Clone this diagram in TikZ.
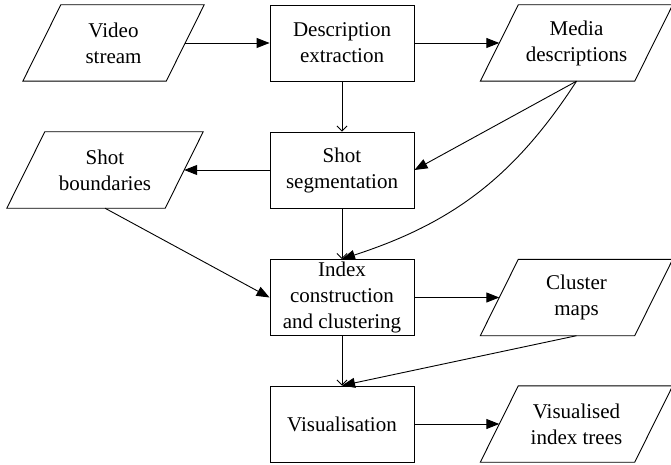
\documentclass[tikz,border=0pt]{standalone}
\usepackage{fontspec}
\setmainfont{Liberation Serif}
\usetikzlibrary{arrows.meta}
\begin{document}
\begin{tikzpicture}[x=1pt,y=1pt,
  every node/.style={font=\fontsize{21}{26}\selectfont, align=center, inner sep=0pt},
  proc/.style={draw, line width=0.9pt, minimum width=144pt, minimum height=76pt},
  data/.style={minimum height=76pt},
  flow/.style={line width=0.9pt, -{Triangle[length=13pt,width=10pt]}},
  down/.style={line width=0.9pt, -{Straight Barb[length=5pt,width=10pt]}},
]
\useasboundingbox (0,0) rectangle (671,464);
% process boxes
\node[proc] (de)  at (342,421)   {Description\\extraction};
\node[proc] (ss)  at (342,294)   {Shot\\segmentation};
\node[proc] (idx) at (342,166.5) {Index\\construction\\and clustering};
\node[proc] (vis) at (342,40)    {Visualisation};
% data nodes (parallelograms drawn below)
\node[data, minimum width=143pt] (vs)  at (113.5,421) {Video\\stream};
\node[data, minimum width=158pt] (sb)  at (105,294)   {Shot\\boundaries};
\node[data, minimum width=154pt] (md)  at (576.5,421) {Media\\descriptions};
\node[data, minimum width=154pt] (cm)  at (576.5,166.5) {Cluster\\maps};
\node[data, minimum width=154pt] (vit) at (576.5,40)  {Visualised\\index trees};
\foreach \n in {vs,sb,md,cm,vit}
  \draw[line width=0.9pt] ([xshift=19pt]\n.north west) -- ([xshift=19pt]\n.north east)
    -- ([xshift=-19pt]\n.south east) -- ([xshift=-19pt]\n.south west) -- cycle;
% connectors
\draw[flow] (vs.east) -- (de.west);
\draw[flow] (de.east) -- (md.west);
\draw[down] (de.south) -- (ss.north);
\draw[flow] (md.south) -- (ss.east);
\draw[flow] (md.south) to[out=-123,in=18] (idx.north);
\draw[flow] (ss.west) -- (sb.east);
\draw[flow] (sb.south) -- (idx.west);
\draw[down] (ss.south) -- (idx.north);
\draw[flow] (idx.east) -- (cm.west);
\draw[down] (idx.south) -- (vis.north);
\draw[flow] (cm.south) -- (vis.north);
\draw[flow] (vis.east) -- (vit.west);
\end{tikzpicture}
\end{document}
